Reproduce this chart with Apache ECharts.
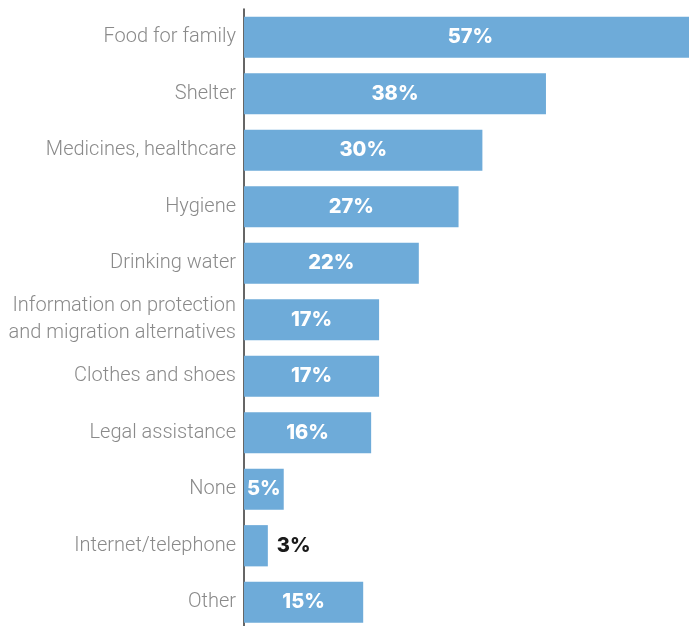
<!DOCTYPE html>
<html>
<head>
<meta charset="utf-8">
<style>
  html, body { margin: 0; padding: 0; background: #ffffff; }
  #chart { width: 689px; height: 626px; }
</style>
<script src="https://cdn.jsdelivr.net/npm/echarts@6/dist/echarts.min.js"></script>
</head>
<body>
<div id="chart"></div>
<script>
// Needs reported, share of respondents (%)
const categories = [
  'Food for family',
  'Shelter',
  'Medicines, healthcare',
  'Hygiene',
  'Drinking water',
  'Information on protection\nand migration alternatives',
  'Clothes and shoes',
  'Legal assistance',
  'None',
  'Internet/telephone',
  'Other'
];
const values = [57, 38, 30, 27, 22, 17, 17, 16, 5, 3, 15];
// Bars too short to hold their label get it printed outside, in dark text
const outsideLabelValues = [3];

const BAR = '#6eabd9';

const chart = echarts.init(document.getElementById('chart'), null, { renderer: 'canvas' });

const seriesData = values.map(v => {
  const item = { value: v };
  if (outsideLabelValues.includes(v)) {
    item.label = { position: 'right', distance: 9, color: '#1a1a1a' };
  }
  return item;
});

chart.setOption({
  animation: false,
  // the plot runs to the right and bottom edges; the longest bar overflows them
  grid: {
    left: 244, right: 0, top: 9, height: 621.5,
    containLabel: false,
    outerBoundsMode: 'none'
  },
  xAxis: {
    type: 'value',
    min: 0,
    max: 56,
    show: false
  },
  yAxis: {
    type: 'category',
    data: categories,
    inverse: true,
    axisLine: { show: true, lineStyle: { color: '#333333', width: 1.5 } },
    axisTick: { show: false },
    axisLabel: {
      margin: 8,
      color: '#8a8a8a',
      fontFamily: 'Roboto',
      fontWeight: 300,
      fontSize: 20,
      lineHeight: 27,
      align: 'right'
    }
  },
  series: [{
    type: 'bar',
    data: seriesData,
    clip: false,
    barCategoryGap: '27%',
    itemStyle: { color: BAR },
    label: {
      show: true,
      position: 'inside',
      formatter: '{c}%',
      color: '#ffffff',
      fontFamily: 'Inter',
      fontWeight: 800,
      fontSize: 20
    }
  }]
});
</script>
</body>
</html>
